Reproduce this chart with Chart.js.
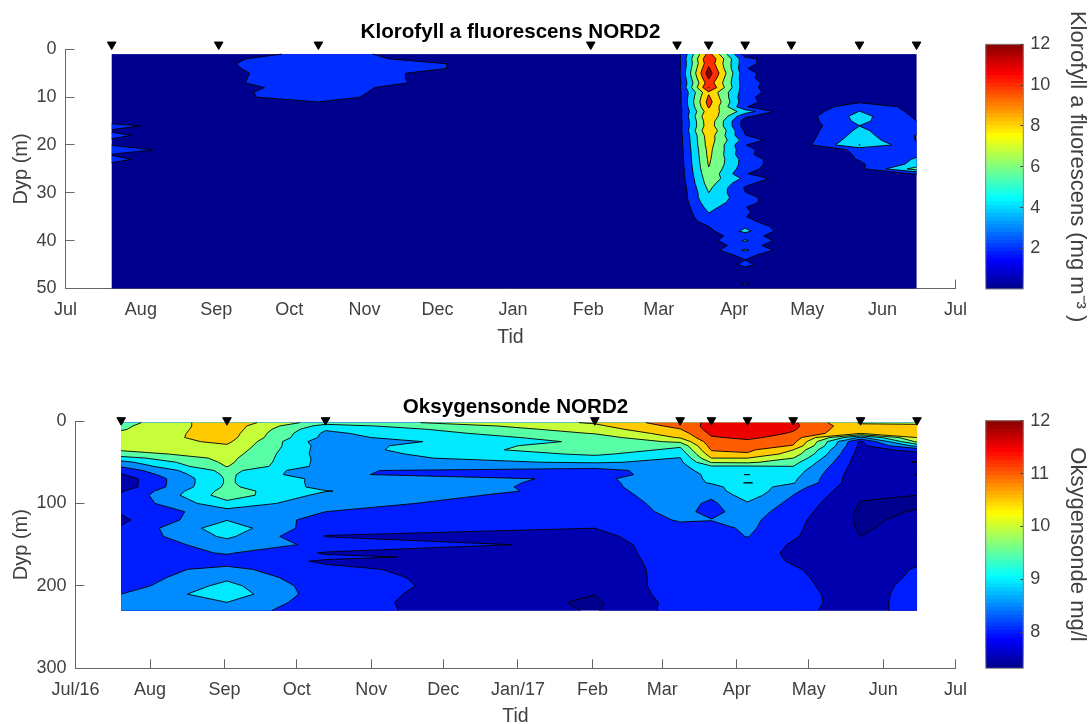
<!DOCTYPE html>
<html>
<head>
<meta charset="utf-8">
<title>NORD2</title>
<script src="https://cdn.jsdelivr.net/npm/chart.js@4"></script>
<style>
html, body { margin: 0; padding: 0; background: #fff; overflow: hidden; width: 1091px; height: 724px; }
canvas { position: absolute; }
</style>
</head>
<body>
<canvas id="chlChart" width="987" height="350" style="left:0;top:0"></canvas>
<canvas id="chlBar" width="116" height="350" style="left:975px;top:0"></canvas>
<canvas id="oxyChart" width="987" height="380" style="left:0;top:350px"></canvas>
<canvas id="oxyBar" width="116" height="380" style="left:975px;top:350px"></canvas>
<script>
// days since 1 Jul 2016
let monthDays = [0, 31, 62, 92, 123, 153, 184, 215, 244, 275, 305, 336, 366];
let chlMonths = ["Jul", "Aug", "Sep", "Oct", "Nov", "Dec", "Jan", "Feb", "Mar", "Apr", "May", "Jun", "Jul"];
let oxyMonths = ["Jul/16", "Aug", "Sep", "Oct", "Nov", "Dec", "Jan/17", "Feb", "Mar", "Apr", "May", "Jun", "Jul"];
let stationDays = [19, 63, 104, 216, 251.5, 264.5, 279.5, 298.5, 326.5, 350];

let chlDepthTicks = [0, 10, 20, 30, 40, 50];
let oxyDepthTicks = [0, 100, 200, 300];
let chlLevels = [2, 4, 6, 8, 10, 12];
let oxyLevels = [7.5, 8, 8.5, 9, 9.5, 10, 10.5, 11, 11.5];
let chlBarTicks = [2, 4, 6, 8, 10, 12];
let oxyBarTicks = [8, 9, 10, 11, 12];

let chlDepths = [1,2,3,4,5,6,7,8,9,10,11,12,13,14,15,16,17,18,19,20,21,22,23,24,25,26,27,28,29,30,31,32,33,34,35,36,37,38,39,40,41,42,43,44,45,46,47,48,49,50];
// one row per depth, one column per station
let chlValues = [
    [.8,1.57,2.25,1,.85,10.8,1.1,.5,1,.8],
    [.8,1.87,2.35,1,.9,11.9,2.5,.5,1,.8],
    [.8,1.81,2.89,1,.85,11.5,2.5,.5,1,.8],
    [.8,1.74,2.89,1,.8,12.3,2.1,.5,1,.8],
    [.8,1.79,2.47,1,.85,13,2.5,.5,1,.8],
    [.8,1.81,2.47,1,.8,12.2,2.42,.5,1,.8],
    [.8,1.82,2.49,1,.75,11.2,2.74,.5,1,.8],
    [.8,1.78,2.26,1,.8,12.1,2.6,.5,1,.8],
    [.8,1.88,2.22,1,.85,9.7,2.85,.5,1,.8],
    [.8,1.89,2.18,1,.8,10.3,2.42,.5,1.2,.8],
    [.8,1.7,2,1,.75,10.8,2.6,.5,1.8,.8],
    [.8,1.4,1.5,1,.7,10.3,2.1,.3,3,1.5],
    [.8,1.2,1.3,1,.7,9.2,5.1,.1,4.05,1.45],
    [.8,1,1.1,1,.7,10,2.3,.3,4.7,1.7],
    [1.5,1,1.1,1,.65,9.4,1,.3,4.5,2],
    [2.37,1,1.1,1,.6,9.3,1,.3,3.98,2.3],
    [1.9,1,1.1,1,.6,10,1.7,.3,4.4,2.2],
    [2.22,1,1.1,1,.55,9.2,2.05,.3,4.8,1.9],
    [1.9,1,1.1,1,.55,9,3.1,.3,5.3,1.9],
    [1.95,1,1.1,1,.5,8.9,2.05,.3,6.05,2.45],
    [2.63,1,1.1,1,.45,8.6,2.5,.3,2.4,2.8],
    [1.95,1,1.1,1,.4,8.5,2.4,.3,2.2,3.7],
    [2.22,1,1.1,1,.4,8.3,3.1,.3,2.1,4.2],
    [1.9,1,1.1,1,.35,8.15,3.1,.3,1.7,4.6],
    [1.2,1,1.1,1,.3,7.9,2.75,.3,1.5,6.9],
    [.8,1,1.1,1,.3,7.6,2.1,.5,1.3,2.1],
    [.8,1,1.1,1,.25,7.2,3.55,.5,1,1],
    [.8,1,1.1,1,.2,6.9,2.4,.5,1,1],
    [.8,1,1.1,1,.15,6.4,1.8,.5,1,1],
    [.8,1,1.1,1,.1,6,2.05,.5,1,1],
    [.8,1,1.1,1,.1,5.9,2.6,.5,1,1],
    [.8,1,1.1,1,.1,5.3,2.6,.5,1,1],
    [.8,1,1.1,1,.1,4.7,2.05,.5,1,1],
    [.8,1,1.1,1,.1,4.1,2.2,.5,1,1],
    [.8,1,1.1,1,.1,3.6,2.05,.5,1,1],
    [.8,1,1.1,1,.1,3,2.5,.5,1,1],
    [.8,1,1.1,1,.1,2,3.7,.5,1,1],
    [.8,1,1.1,1,.1,1.5,4.5,.5,1,1],
    [.8,1,1.1,1,.1,1.3,3,.5,1,1],
    [.8,1,1.1,1,.1,1.2,4.25,.5,1,1],
    [.8,1,1.1,1,.1,1.1,2.85,.5,1,1],
    [.8,1,1.1,1,.1,1,4.3,.5,1,1],
    [.8,1,1.1,1,.1,.9,2.5,.5,1,1],
    [.8,1,1.1,1,.1,.7,2,.5,1,1],
    [.8,1,1.1,1,.1,.7,2.33,.5,1,1],
    [.8,1,1.1,1,.1,.6,1.7,.5,1,1],
    [.8,1,1.1,1,.1,.6,1.3,.5,1,1],
    [.8,1,1.1,1,.1,.5,1.5,.5,1,1],
    [.8,1,1.1,1,.1,.5,2.15,.5,1,1],
    [.8,1,1.1,1,.1,.5,1.2,.5,1,1]
];

let oxyDepths = [2,6,10,15,20,25,30,35,40,45,50,55,60,65,70,75,80,85,90,100,110,120,130,140,150,160,165,170,180,190,200,210,220,230];
let oxyValues = [
    [9.8,10.85,9.7,10.55,11.3,11.6,11.85,11.58,10.45,10.45],
    [9.9,10.8,9.3,10.4,11.15,11.7,11.9,11.6,10.6,10.55],
    [9.95,10.8,9.05,10.25,10.98,11.7,11.85,11.55,10.55,10.55],
    [10.1,10.75,8.9,10.03,10.75,11.6,11.75,11.45,10.5,10.55],
    [10.2,10.7,8.85,9.75,10.55,11.45,11.6,11.3,8.9,10.52],
    [10.2,10.6,8.65,9.62,10.1,11.3,11.4,11.15,7.9,10.1],
    [10.15,10.45,8.75,9.8,9.6,11.2,11.25,10.97,7.85,9.15],
    [10.05,10.35,8.75,9.88,9.35,11.05,11.1,10.5,7.8,8.15],
    [9.8,10.25,8.75,9.6,9.15,10.8,10.95,10.3,7.75,7.85],
    [9.3,10.15,8.8,9.3,8.98,10.5,10.5,10,7.7,7.7],
    [8.85,10.1,8.8,9.05,8.9,10.05,10.1,9.7,7.7,7.48],
    [8.55,10.02,8.8,8.7,8.85,9.45,9.45,9.5,7.65,7.7],
    [8.2,9.68,8.55,8.3,8.8,9.25,9.3,9.3,7.65,7.85],
    [7.95,9.6,8.55,8.25,8.8,9.1,8.99,9.2,7.6,8.02],
    [7.7,9.56,8.85,8.4,8.8,9.08,9.2,9.1,7.6,7.85],
    [7.7,9.56,8.85,8.37,8.8,9.04,8.995,9.04,7.6,7.75],
    [7.7,9.6,8.85,8.35,8.8,8.85,9.3,8.75,7.6,7.65],
    [7.95,9.7,9.02,8.3,8.8,8.75,9.35,8.6,7.58,7.55],
    [8.05,9.76,8.85,8.25,8.78,8.6,9.25,8.5,7.55,7.5],
    [8.1,9.35,8.65,8.2,8.7,8.4,8.95,8.35,7.48,7.45],
    [8.05,8.8,8.5,8.15,8.65,8.35,8.75,8.25,7.42,7.52],
    [7.9,8.98,8.3,8.05,8.55,8.52,8.65,8.15,7.42,7.6],
    [8.05,9.3,8.15,8,8.35,8.3,8.6,8.1,7.45,7.65],
    [8.1,9.1,7.98,7.9,8.25,8.25,8.52,8.05,7.5,7.7],
    [8.1,8.75,8.4,7.82,8.22,8.25,8.3,7.95,7.55,7.75],
    [8.15,8.55,7.95,7.8,8.2,8.25,8.25,7.9,7.6,7.8],
    [8.15,8.4,8.08,7.78,8.2,8.25,8.25,7.92,7.62,7.85],
    [8.2,8.25,7.95,7.75,8.2,8.25,8.25,7.95,7.65,7.9],
    [8.25,8.65,8.08,7.7,8.2,8.25,8.25,8.05,7.68,8.05],
    [8.2,8.9,8.15,7.65,8.22,8.25,8.2,8.1,7.7,8.1],
    [8.25,9.15,8.2,7.6,8.25,8.25,8.15,8.15,7.7,8.2],
    [8.5,9.3,8.2,7.505,8.25,8.25,8.15,8.2,7.72,8.25],
    [8.6,9,8.2,7.42,8.2,8.25,8.1,8.2,7.75,8.25],
    [8.65,8.75,8.2,7.46,8.2,8.25,8.1,8.15,7.75,8.25]
];

Chart.defaults.font.family = "'Liberation Sans', Arial, sans-serif";
Chart.defaults.color = "#404040";

// 64 step jet colormap
function jet(t) {
    let i = Math.max(0, Math.min(63, Math.floor(t * 64)));
    let u = (i + 1) / 65;
    let ramp = (v) => Math.round(255 * Math.max(0, Math.min(1, v)));
    let r = ramp(Math.min(4 * u - 1.5, -4 * u + 4.5));
    let g = ramp(Math.min(4 * u - 0.5, -4 * u + 3.5));
    let b = ramp(Math.min(4 * u + 0.5, -4 * u + 2.5));
    return `rgb(${r},${g},${b})`;
}

// clips one grid cell to value >= level, adds it to the fill path and collects the contour segments
function addCell(ctx, corners, level, segments) {
    let poly = [];
    for (let i = 0; i < 4; i++) {
        let a = corners[i];
        let b = corners[(i + 1) % 4];
        if (a.v >= level) poly.push({x: a.x, y: a.y, cut: false});
        if ((a.v >= level) !== (b.v >= level)) {
            let f = (level - a.v) / (b.v - a.v);
            poly.push({x: a.x + (b.x - a.x) * f, y: a.y + (b.y - a.y) * f, cut: true});
        }
    }
    if (poly.length < 3) return;
    ctx.moveTo(poly[0].x, poly[0].y);
    for (let i = 1; i < poly.length; i++) ctx.lineTo(poly[i].x, poly[i].y);
    ctx.closePath();
    for (let i = 0; i < poly.length; i++) {
        let p = poly[i];
        let q = poly[(i + 1) % poly.length];
        if (p.cut && q.cut) segments.push([p, q]);
    }
}

let contourPlugin = {
    id: "contour",
    beforeDatasetsDraw(chart, args, opts) {
        let ctx = chart.ctx;
        let xs = chart.scales.x;
        let ys = chart.scales.y;
        let px = stationDays.map((d) => xs.getPixelForValue(d));
        let py = opts.depths.map((d) => ys.getPixelForValue(d));
        let range = opts.cmax - opts.cmin;

        ctx.save();
        ctx.fillStyle = jet(0);
        ctx.fillRect(px[0], py[0], px[px.length - 1] - px[0], py[py.length - 1] - py[0]);

        let allSegments = [];
        opts.levels.forEach((level) => {
            ctx.beginPath();
            for (let r = 0; r < py.length - 1; r++) {
                for (let c = 0; c < px.length - 1; c++) {
                    addCell(ctx, [
                        {x: px[c], y: py[r], v: opts.values[r][c]},
                        {x: px[c + 1], y: py[r], v: opts.values[r][c + 1]},
                        {x: px[c + 1], y: py[r + 1], v: opts.values[r + 1][c + 1]},
                        {x: px[c], y: py[r + 1], v: opts.values[r + 1][c]}
                    ], level, allSegments);
                }
            }
            ctx.fillStyle = jet((level - opts.cmin) / range);
            ctx.fill();
        });

        ctx.beginPath();
        allSegments.forEach((s) => {
            ctx.moveTo(s[0].x, s[0].y);
            ctx.lineTo(s[1].x, s[1].y);
        });
        ctx.strokeStyle = "#000";
        ctx.lineWidth = 0.9;
        ctx.stroke();
        ctx.restore();
    }
};

let frameBox = {
    id: "frameBox",
    afterDatasetsDraw(chart) {
        let a = chart.chartArea;
        chart.ctx.save();
        chart.ctx.strokeStyle = "#8a8a8a";
        chart.ctx.lineWidth = 1;
        chart.ctx.strokeRect(a.left, a.top, a.right - a.left, a.bottom - a.top);
        chart.ctx.restore();
    }
};

function contourChart(id, cfg) {
    return new Chart(document.getElementById(id), {
        type: "scatter",
        plugins: [contourPlugin],
        data: {
            datasets: [{
                label: "Stasjoner",
                data: stationDays.map((d) => ({x: d, y: -1})),
                pointStyle: "triangle",
                rotation: 180,
                pointRadius: 5,
                pointHoverRadius: 5,
                pointBorderWidth: 1,
                backgroundColor: "#000",
                borderColor: "#000",
                clip: false
            }]
        },
        options: {
            responsive: false,
            animation: false,
            events: [],
            layout: {padding: {top: cfg.padTop, bottom: cfg.padBottom, right: 20, left: 0}},
            plugins: {
                legend: {display: false},
                tooltip: {enabled: false},
                title: {
                    display: true,
                    text: cfg.title,
                    color: "#000",
                    fullSize: false,
                    font: {size: 20.6, weight: "bold", lineHeight: 1.2},
                    padding: {top: 0, bottom: cfg.titleGap}
                },
                contour: {depths: cfg.depths, values: cfg.values, levels: cfg.levels, cmin: cfg.cmin, cmax: cfg.cmax}
            },
            scales: {
                x: {
                    type: "linear",
                    min: 0,
                    max: 366,
                    afterBuildTicks: (s) => { s.ticks = monthDays.map((v) => ({value: v})); },
                    afterFit: (s) => { s.height = cfg.xHeight; },
                    ticks: {
                        autoSkip: false,
                        maxRotation: 0,
                        padding: 20,
                        font: {size: 18},
                        callback: (v, i) => cfg.months[i]
                    },
                    grid: {drawOnChartArea: false, tickLength: -9, tickColor: "#666"},
                    border: {color: "#666"},
                    title: {display: true, text: "Tid", font: {size: 19.5, lineHeight: 1.2}, padding: 0}
                },
                y: {
                    type: "linear",
                    reverse: true,
                    min: 0,
                    max: cfg.depthMax,
                    afterBuildTicks: (s) => { s.ticks = cfg.depthTicks.map((v) => ({value: v})); },
                    afterFit: (s) => { s.width = cfg.yWidth; },
                    ticks: {padding: 18, font: {size: 18}},
                    grid: {drawOnChartArea: false, tickLength: -9, tickColor: "#666"},
                    border: {color: "#666"},
                    title: {display: true, text: "Dyp (m)", font: {size: 20, lineHeight: 1.2}, padding: {top: 9, bottom: 0}}
                }
            }
        }
    });
}

function colorBar(id, cfg) {
    let bands = [];
    // first dataset is painted last, so the lowest band goes at the end
    for (let i = 63; i >= 0; i--) {
        let lo = cfg.cmin + (cfg.cmax - cfg.cmin) * i / 64;
        bands.push({label: "band" + i, data: [[lo, cfg.cmax]], backgroundColor: jet((i + 0.5) / 64), borderWidth: 0, grouped: false});
    }
    return new Chart(document.getElementById(id), {
        type: "bar",
        plugins: [frameBox],
        data: {labels: [cfg.label], datasets: bands},
        options: {
            responsive: false,
            animation: false,
            events: [],
            barPercentage: 1,
            categoryPercentage: 1,
            layout: {padding: {top: cfg.padTop, bottom: cfg.padBottom, left: 10.7, right: 1}},
            plugins: {legend: {display: false}, tooltip: {enabled: false}},
            scales: {
                x: {display: false},
                y: {
                    position: "right",
                    min: cfg.cmin,
                    max: cfg.cmax,
                    afterBuildTicks: (s) => { s.ticks = cfg.ticks.map((v) => ({value: v})); },
                    afterFit: (s) => { s.width = 66.7; },
                    ticks: {padding: 10, font: {size: 18}},
                    grid: {drawOnChartArea: false, tickLength: -3, tickColor: "#444", z: 1},
                    border: {display: false},
                    title: {display: true, text: cfg.label, font: {size: 22, lineHeight: 1.2}, padding: 0}
                }
            }
        }
    });
}

contourChart("chlChart", {
    title: "Klorofyll a fluorescens NORD2",
    depths: chlDepths, values: chlValues, levels: chlLevels, months: chlMonths,
    depthTicks: chlDepthTicks, depthMax: 50, cmin: 0.01, cmax: 12,
    padTop: 19.6, padBottom: 1, titleGap: 5, xHeight: 60.5, yWidth: 65.5
});
colorBar("chlBar", {
    label: "Klorofyll a fluorescens (mg m\u207B\u00B3 )", ticks: chlBarTicks, cmin: 0.01, cmax: 12,
    padTop: 44.3, padBottom: 61
});
contourChart("oxyChart", {
    title: "Oksygensonde NORD2",
    depths: oxyDepths, values: oxyValues, levels: oxyLevels, months: oxyMonths,
    depthTicks: oxyDepthTicks, depthMax: 300, cmin: 7.32, cmax: 12,
    padTop: 45.3, padBottom: 1.8, titleGap: 1, xHeight: 59.9, yWidth: 75.5
});
colorBar("oxyBar", {
    label: "Oksygensonde mg/l", ticks: oxyBarTicks, cmin: 7.32, cmax: 12,
    padTop: 70.7, padBottom: 61.7
});
</script>
</body>
</html>
